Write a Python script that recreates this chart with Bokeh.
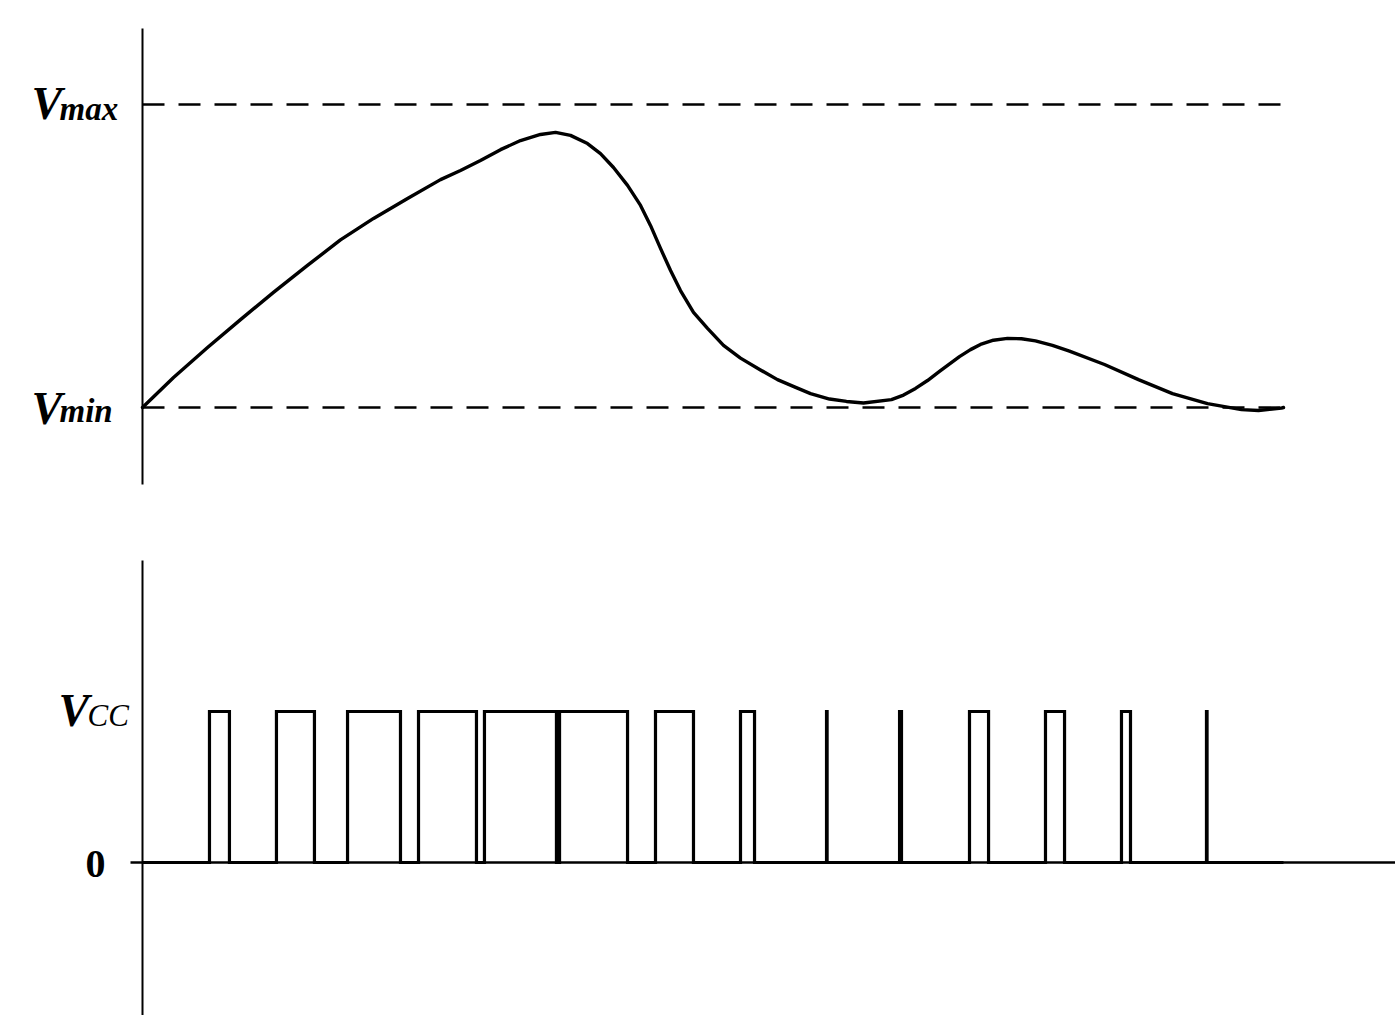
from bokeh.plotting import figure
from bokeh.models import Range1d
from bokeh.embed import file_html
from bokeh.resources import INLINE
from bokeh.core.properties import value

# ---------------- data ----------------
# top panel: analogue signal, normalised so that Vmin = 0 and Vmax = 1, time 0..100
curve_t = [0.0, 2.72, 5.70, 8.59, 11.48, 14.46, 17.35, 20.25, 23.23, 26.12,
           27.87, 29.62, 31.38, 33.13, 34.88, 36.20, 37.51, 39.00, 40.14, 41.28,
           42.51, 43.65, 44.52, 45.40, 46.28, 47.15, 48.29, 49.52, 50.92, 52.41,
           54.16, 55.65, 57.14, 58.55, 60.21, 61.70, 63.19, 65.64, 66.70, 67.75,
           68.80, 69.85, 71.60, 72.57, 73.44, 74.58, 75.81, 77.04, 78.26, 79.75,
           81.24, 84.31, 87.29, 90.27, 93.34, 96.32, 97.81, 99.82, 100.0]
curve_v = [0.0, 0.099, 0.198, 0.290, 0.380, 0.469, 0.553, 0.624, 0.690, 0.752,
           0.782, 0.815, 0.851, 0.881, 0.901, 0.908, 0.898, 0.871, 0.838, 0.792,
           0.733, 0.667, 0.601, 0.525, 0.452, 0.386, 0.314, 0.261, 0.205, 0.163,
           0.124, 0.092, 0.068, 0.046, 0.028, 0.020, 0.015, 0.026, 0.041, 0.063,
           0.089, 0.119, 0.168, 0.191, 0.208, 0.222, 0.228, 0.227, 0.220, 0.205,
           0.186, 0.142, 0.092, 0.046, 0.013, -0.007, -0.010, -0.002, 0.0]
t_end = 100.0
v_min, v_max = 0.0, 1.0
top_subscripts = ["max", "min"]
top_levels = [v_max, v_min]

# bottom panel: PWM pulses (0 .. Vcc = 1)
rise_t = [5.87, 11.74, 17.97, 24.19, 29.97, 36.55, 44.96, 52.41, 59.95, 66.35,
          72.48, 79.14, 85.80, 93.25]
fall_t = [7.62, 15.07, 22.61, 29.27, 36.28, 42.51, 48.29, 53.64, 60.00, 66.52,
          74.15, 80.81, 86.59, 93.30]
vcc = 1.0
zero = 0.0

# ---------------- layout (pixels) ----------------
W, H = 1395, 1015
ax_px = 142          # vertical axes position
end_px = 1283        # end of time span
top_zero_px, top_one_px = 407, 104
bot_zero_px, bot_one_px = 862, 711

ppt = (end_px - ax_px) / t_end
ppv = top_zero_px - top_one_px
ppu = bot_zero_px - bot_one_px

x_range = Range1d(-ax_px / ppt, (W - ax_px) / ppt)
y_range = Range1d((top_zero_px - H) / ppv, top_zero_px / ppv)

p = figure(width=W, height=H, x_range=x_range, y_range=y_range,
           x_axis_type=None, y_axis_type=None, output_backend="svg",
           toolbar_location=None, min_border=0)
p.outline_line_color = None
p.background_fill_color = "white"
p.border_fill_color = "white"
p.extra_y_ranges = {"pwm": Range1d((bot_zero_px - H) / ppu, bot_zero_px / ppu)}

def tv(py):   # pixel row -> top value
    return (top_zero_px - py) / ppv

def bu(py):   # pixel row -> bottom value
    return (bot_zero_px - py) / ppu

black = "black"
serif = value("Liberation Serif")

# ---- top panel ----
p.segment(x0=[0], y0=[tv(484)], x1=[0], y1=[tv(28)], line_color=black, line_width=2)
p.multi_line(xs=[[0, t_end], [0, t_end]], ys=[[lv, lv] for lv in top_levels],
             line_color=black, line_width=2.4, line_dash="22 14")
p.line(curve_t, curve_v, line_color=black, line_width=3.4, line_join="round",
       line_cap="round")

for sub, lv, dy_v, dy_s in zip(top_subscripts, top_levels, [-1, 1], [4, 3]):
    p.text(x=[0], y=[lv], text=["V"], text_font=serif,
           text_font_style="bold italic", text_font_size="46px",
           text_align="left", text_baseline="alphabetic",
           x_offset=-111, y_offset=dy_v, text_color=black)
    p.text(x=[0], y=[lv], text=[sub], text_font=serif,
           text_font_style="bold italic", text_font_size="33px",
           text_align="left", text_baseline="alphabetic",
           x_offset=-83, y_offset=dy_s, text_color=black)

# ---- bottom panel ----
p.segment(x0=[0], y0=[bu(560)], x1=[0], y1=[bu(H)], line_color=black,
          line_width=2, y_range_name="pwm")
p.segment(x0=[(130 - ax_px) / ppt], y0=[zero], x1=[(W - ax_px) / ppt], y1=[zero],
          line_color=black, line_width=2.5, y_range_name="pwm")

xs, ys = [0.0], [zero]
for r, f in zip(rise_t, fall_t):
    xs += [r, r, f, f]
    ys += [zero, vcc, vcc, zero]
xs.append(t_end)
ys.append(zero)
p.line(xs, ys, line_color=black, line_width=3.2, line_join="miter",
       y_range_name="pwm")

p.text(x=[0], y=[vcc], text=["V"], text_font=serif,
       text_font_style="bold italic", text_font_size="46px",
       text_align="left", text_baseline="alphabetic",
       x_offset=-84, y_offset=-1, text_color=black, y_range_name="pwm")
p.text(x=[0], y=[vcc], text=["CC"], text_font=serif,
       text_font_style="italic", text_font_size="31px",
       text_align="left", text_baseline="alphabetic",
       x_offset=-55, y_offset=4, text_color=black, y_range_name="pwm")
p.text(x=[0], y=[zero], text=["0"], text_font=serif,
       text_font_style="bold", text_font_size="40px",
       text_align="right", text_baseline="middle",
       x_offset=-37, y_offset=1, text_color=black, y_range_name="pwm")

open("out.html", "w").write(file_html(p, INLINE))
